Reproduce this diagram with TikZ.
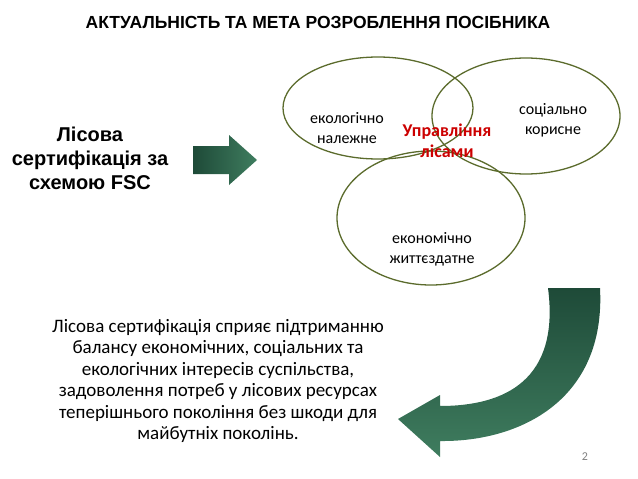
\documentclass[tikz,border=0pt]{standalone}
\usepackage{fontspec}
\setmainfont{Liberation Sans}
\newfontfamily\carlitof{Carlito}
\definecolor{olivec}{HTML}{5B6B2C}
\definecolor{dgreen}{HTML}{1E4A38}
\definecolor{lgreen}{HTML}{3F7D5F}
\tikzset{vc/.style={draw=olivec,line width=1.3pt},
lbl/.style={font=\carlitof\fontsize{16}{20}\selectfont,align=center}}
\begin{document}
\begin{tikzpicture}[x=1pt,y=-1pt]
\useasboundingbox (0,0) rectangle (638,479);
\node (title) at (318,22) {\fontsize{17.5}{20}\selectfont\bfseries АКТУАЛЬНІСТЬ ТА МЕТА РОЗРОБЛЕННЯ ПОСІБНИКА};
\node[align=center,font=\fontsize{20}{24}\selectfont\bfseries] (fsc) at (90,158) {Лісова\\сертифікація за\\схемою FSC};
\shade[left color=dgreen,right color=lgreen] (193,146) -- (229,146) -- (229,135) -- (257,160) -- (229,185) -- (229,174) -- (193,174) -- cycle;
\draw[vc] (378,108) ellipse [x radius=95,y radius=51];
\draw[vc] (526,116) ellipse [x radius=94,y radius=58];
\draw[vc] (431,218) ellipse [x radius=94,y radius=67];
\node[lbl] (eco) at (347,128) {екологічно\\належне};
\node[lbl,text=red!80!black,font=\carlitof\bfseries\fontsize{18}{21}\selectfont] (mgmt) at (447,141) {Управління\\лісами};
\node[lbl] (soc) at (553,120) {соціально\\корисне};
\node[lbl] (econ) at (432,249) {економічно\\життєздатне};
\shade[top color=dgreen,bottom color=lgreen] (600,288) .. controls (606,400) and (520,442) .. (440,441) -- (440,457) -- (398,419) -- (440,395) -- (440,406) .. controls (505,406) and (560,380) .. (548,288) -- cycle;
\node[align=center,font=\carlitof\fontsize{19}{21.5}\selectfont] (body) at (218,381) {Лісова сертифікація сприяє підтриманню\\балансу економічних, соціальних та\\екологічних інтересів суспільства,\\задоволення потреб у лісових ресурсах\\теперішнього покоління без шкоди для\\майбутніх поколінь.};
\node[text=gray,font=\carlitof\fontsize{12}{14}\selectfont] (pg) at (585,457) {2};
\end{tikzpicture}
\end{document}
